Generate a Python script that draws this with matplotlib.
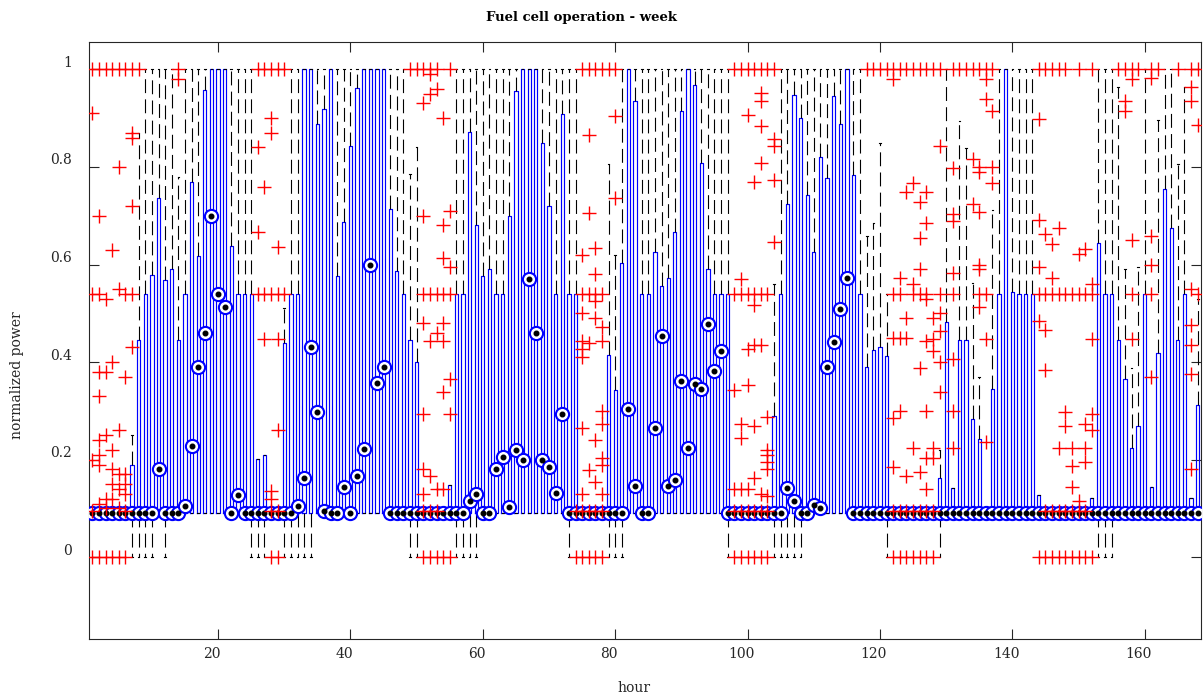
import matplotlib
matplotlib.use("Agg")
import matplotlib.pyplot as plt
import matplotlib.transforms as mtransforms

plt.rcParams['font.family'] = ['DejaVu Serif']
plt.rcParams['lines.scale_dashes'] = False

# Hour of the week for every box
hours = list(range(1, 169))

# Lower quartile is the minimum-load level for every hour
box_bottom = 0.09

# Upper quartile per hour
q3 = [
    0.09, 0.09, 0.09, 0.09, 0.09, 0.09, 0.19, 0.445, 0.54, 0.578,
    0.736, 0.568, 0.59, 0.445, 0.54, 0.77, 0.618, 0.958, 1.0, 1.0,
    1.0, 0.638, 0.54, 0.54, 0.54, 0.202, 0.21, 0.09, 0.09, 0.44,
    0.54, 0.54, 1.0, 1.0, 0.888, 0.919, 1.0, 0.576, 0.687, 0.843,
    0.962, 1.0, 1.0, 1.0, 1.0, 0.713, 0.586, 0.54, 0.445, 0.40,
    0.09, 0.09, 0.09, 0.09, 0.149, 0.54, 0.54, 0.872, 0.68, 0.576,
    0.59, 0.54, 0.54, 0.70, 0.955, 1.0, 1.0, 1.0, 0.85, 0.72,
    0.54, 0.908, 0.54, 0.54, 0.09, 0.09, 0.09, 0.09, 0.415, 0.342,
    0.604, 1.0, 0.935, 0.54, 0.54, 0.625, 0.555, 0.573, 0.667, 0.915,
    1.0, 0.967, 0.807, 0.59, 0.54, 0.54, 0.54, 0.09, 0.09, 0.09,
    0.09, 0.09, 0.09, 0.289, 0.54, 0.724, 0.947, 0.90, 0.742, 0.626,
    0.82, 0.778, 0.946, 0.888, 1.0, 0.783, 0.54, 0.389, 0.425, 0.431,
    0.413, 0.09, 0.09, 0.09, 0.09, 0.09, 0.09, 0.09, 0.162, 0.482,
    0.141, 0.445, 0.445, 0.283, 0.242, 0.09, 0.344, 0.54, 1.0, 0.543,
    0.54, 0.54, 0.54, 0.127, 0.09, 0.09, 0.09, 0.09, 0.09, 0.09,
    0.09, 0.121, 0.645, 0.54, 0.54, 0.445, 0.366, 0.224, 0.27, 0.54,
    0.145, 0.419, 0.755, 0.675, 0.445, 0.54, 0.121, 0.313,
]

# Median per hour
median = [
    0.09, 0.09, 0.09, 0.09, 0.09, 0.09, 0.09, 0.09, 0.09, 0.09,
    0.18, 0.09, 0.09, 0.09, 0.106, 0.228, 0.39, 0.46, 0.70, 0.54,
    0.513, 0.09, 0.127, 0.09, 0.09, 0.09, 0.09, 0.09, 0.09, 0.09,
    0.09, 0.106, 0.163, 0.43, 0.297, 0.094, 0.09, 0.09, 0.143, 0.09,
    0.166, 0.222, 0.60, 0.358, 0.389, 0.09, 0.09, 0.09, 0.09, 0.09,
    0.09, 0.09, 0.09, 0.09, 0.09, 0.09, 0.09, 0.115, 0.129, 0.09,
    0.09, 0.18, 0.205, 0.104, 0.22, 0.20, 0.57, 0.46, 0.20, 0.184,
    0.132, 0.293, 0.09, 0.09, 0.09, 0.09, 0.09, 0.09, 0.09, 0.09,
    0.09, 0.303, 0.147, 0.09, 0.09, 0.265, 0.453, 0.147, 0.159, 0.362,
    0.224, 0.355, 0.344, 0.478, 0.381, 0.423, 0.09, 0.09, 0.09, 0.09,
    0.09, 0.09, 0.09, 0.09, 0.09, 0.141, 0.115, 0.09, 0.09, 0.108,
    0.10, 0.39, 0.442, 0.508, 0.572, 0.09, 0.09, 0.09, 0.09, 0.09,
    0.09, 0.09, 0.09, 0.09, 0.09, 0.09, 0.09, 0.09, 0.09, 0.09,
    0.09, 0.09, 0.09, 0.09, 0.09, 0.09, 0.09, 0.09, 0.09, 0.09,
    0.09, 0.09, 0.09, 0.09, 0.09, 0.09, 0.09, 0.09, 0.09, 0.09,
    0.09, 0.09, 0.09, 0.09, 0.09, 0.09, 0.09, 0.09, 0.09, 0.09,
    0.09, 0.09, 0.09, 0.09, 0.09, 0.09, 0.09, 0.09,
]

# Upper whisker end per hour
whisker_high = [
    0.09, 0.09, 0.09, 0.09, 0.09, 0.09, 0.25, 0.87, 1.0, 1.0,
    1.0, 1.0, 1.0, 0.78, 1.0, 1.0, 1.0, 1.0, 1.0, 1.0,
    1.0, 1.0, 1.0, 1.0, 1.0, 0.202, 0.21, 0.09, 0.09, 0.51,
    1.0, 1.0, 1.0, 1.0, 1.0, 1.0, 1.0, 1.0, 1.0, 1.0,
    1.0, 1.0, 1.0, 1.0, 1.0, 1.0, 1.0, 1.0, 0.785, 0.84,
    0.09, 0.09, 0.09, 0.09, 0.149, 1.0, 1.0, 1.0, 1.0, 1.0,
    1.0, 1.0, 1.0, 1.0, 1.0, 1.0, 1.0, 1.0, 1.0, 1.0,
    1.0, 1.0, 1.0, 1.0, 0.09, 0.09, 0.09, 0.09, 0.805, 0.62,
    1.0, 1.0, 1.0, 1.0, 1.0, 1.0, 1.0, 1.0, 1.0, 1.0,
    1.0, 1.0, 1.0, 1.0, 1.0, 1.0, 1.0, 0.09, 0.09, 0.09,
    0.09, 0.09, 0.09, 0.561, 1.0, 1.0, 1.0, 1.0, 1.0, 1.0,
    1.0, 1.0, 1.0, 1.0, 1.0, 1.0, 1.0, 0.659, 0.685, 0.85,
    0.54, 0.09, 0.09, 0.09, 0.09, 0.09, 0.09, 0.09, 0.22, 1.0,
    0.141, 0.894, 0.839, 0.563, 0.369, 0.09, 0.712, 1.0, 1.0, 1.0,
    1.0, 1.0, 1.0, 0.127, 0.09, 0.09, 0.09, 0.09, 0.09, 0.09,
    0.09, 0.121, 1.0, 1.0, 1.0, 0.963, 0.59, 0.387, 0.594, 1.0,
    0.145, 0.896, 1.0, 1.0, 0.805, 0.963, 0.121, 0.53,
]

# Lower whisker end per hour (0 where the cell was switched off in the spread)
whisker_low = [
    0.09, 0.09, 0.09, 0.09, 0.09, 0.09, 0.0, 0.0, 0.0, 0.0,
    0.09, 0.0, 0.09, 0.09, 0.09, 0.09, 0.09, 0.09, 0.09, 0.09,
    0.09, 0.09, 0.09, 0.09, 0.0, 0.0, 0.0, 0.09, 0.09, 0.0,
    0.0, 0.0, 0.0, 0.0, 0.09, 0.09, 0.09, 0.09, 0.09, 0.09,
    0.09, 0.09, 0.09, 0.09, 0.09, 0.09, 0.09, 0.09, 0.0, 0.0,
    0.09, 0.09, 0.09, 0.09, 0.09, 0.0, 0.0, 0.0, 0.0, 0.09,
    0.09, 0.09, 0.09, 0.09, 0.09, 0.09, 0.09, 0.09, 0.09, 0.09,
    0.09, 0.09, 0.0, 0.09, 0.09, 0.09, 0.09, 0.09, 0.0, 0.0,
    0.0, 0.09, 0.09, 0.09, 0.09, 0.09, 0.09, 0.09, 0.09, 0.09,
    0.09, 0.09, 0.09, 0.09, 0.09, 0.09, 0.0, 0.09, 0.09, 0.09,
    0.09, 0.09, 0.09, 0.0, 0.0, 0.0, 0.0, 0.0, 0.09, 0.09,
    0.09, 0.09, 0.09, 0.09, 0.09, 0.09, 0.09, 0.09, 0.09, 0.09,
    0.0, 0.09, 0.09, 0.09, 0.09, 0.09, 0.09, 0.09, 0.0, 0.09,
    0.09, 0.09, 0.09, 0.09, 0.09, 0.09, 0.09, 0.09, 0.09, 0.09,
    0.09, 0.09, 0.09, 0.09, 0.09, 0.09, 0.09, 0.09, 0.09, 0.09,
    0.09, 0.09, 0.0, 0.0, 0.0, 0.09, 0.09, 0.09, 0.09, 0.09,
    0.09, 0.09, 0.09, 0.09, 0.09, 0.09, 0.09, 0.09,
]

# Outlying observations, keyed by hour
outliers = {
    1: [1.0, 0.91, 0.54, 0.20, 0.095, 0.0],
    2: [1.0, 0.70, 0.54, 0.38, 0.33, 0.24, 0.21, 0.19, 0.11, 0.0],
    3: [1.0, 0.53, 0.38, 0.25, 0.12, 0.10, 0.0],
    4: [1.0, 0.63, 0.40, 0.22, 0.18, 0.15, 0.12, 0.0],
    5: [1.0, 0.80, 0.55, 0.26, 0.17, 0.14, 0.10, 0.0],
    6: [1.0, 0.54, 0.37, 0.17, 0.15, 0.13, 0.095, 0.0],
    7: [1.0, 0.87, 0.86, 0.72, 0.54, 0.43],
    8: [1.0],
    14: [1.0, 0.98],
    26: [1.0, 0.84, 0.667, 0.54],
    27: [1.0, 0.758, 0.54, 0.448],
    28: [1.0, 0.90, 0.87, 0.54, 0.135, 0.119, 0.095, 0.0],
    29: [1.0, 0.636, 0.54, 0.448, 0.26, 0.095, 0.0],
    30: [1.0, 0.54],
    49: [1.0],
    50: [1.0],
    51: [1.0, 0.93, 0.70, 0.54, 0.48, 0.293, 0.18, 0.13, 0.095, 0.0],
    52: [1.0, 0.99, 0.95, 0.54, 0.444, 0.167, 0.095, 0.0],
    53: [1.0, 0.96, 0.54, 0.46, 0.14, 0.095, 0.0],
    54: [0.90, 0.68, 0.614, 0.54, 0.48, 0.444, 0.338, 0.14, 0.0],
    55: [1.0, 0.71, 0.595, 0.54, 0.366, 0.293, 0.0],
    74: [0.095, 0.0],
    75: [1.0, 0.62, 0.54, 0.50, 0.444, 0.427, 0.41, 0.265, 0.13, 0.095, 0.0],
    76: [1.0, 0.866, 0.706, 0.54, 0.44, 0.178, 0.095, 0.0],
    77: [1.0, 0.633, 0.58, 0.54, 0.525, 0.49, 0.24, 0.155, 0.095, 0.0],
    78: [1.0, 0.54, 0.472, 0.444, 0.30, 0.273, 0.204, 0.19, 0.13, 0.095, 0.0],
    79: [1.0],
    80: [1.0, 0.904, 0.736],
    98: [1.0, 0.54, 0.342, 0.139, 0.095, 0.0],
    99: [1.0, 0.571, 0.54, 0.273, 0.245, 0.139, 0.095, 0.0],
    100: [1.0, 0.906, 0.54, 0.427, 0.354, 0.14, 0.095, 0.0],
    101: [1.0, 0.77, 0.54, 0.517, 0.435, 0.27, 0.163, 0.095, 0.0],
    102: [1.0, 0.951, 0.935, 0.884, 0.807, 0.54, 0.435, 0.13, 0.095, 0.0],
    103: [1.0, 0.54, 0.287, 0.22, 0.21, 0.196, 0.18, 0.125, 0.095, 0.0],
    104: [1.0, 0.858, 0.842, 0.773, 0.647],
    118: [1.0],
    119: [1.0],
    120: [1.0],
    121: [1.0],
    122: [1.0, 0.98, 0.54, 0.45, 0.285, 0.184, 0.095, 0.0],
    123: [1.0, 0.573, 0.54, 0.45, 0.30, 0.095, 0.0],
    124: [1.0, 0.748, 0.49, 0.45, 0.167, 0.095, 0.0],
    125: [1.0, 0.768, 0.561, 0.54, 0.224, 0.095, 0.0],
    126: [1.0, 0.728, 0.655, 0.59, 0.54, 0.387, 0.175, 0.095, 0.0],
    127: [1.0, 0.748, 0.685, 0.54, 0.529, 0.444, 0.30, 0.204, 0.139, 0.095, 0.0],
    128: [1.0, 0.49, 0.448, 0.423, 0.224, 0.204, 0.095, 0.0],
    129: [1.0, 0.843, 0.54, 0.50, 0.464, 0.40, 0.338],
    131: [1.0, 0.797, 0.703, 0.69, 0.582, 0.54, 0.407, 0.30, 0.224],
    132: [1.0],
    133: [1.0],
    134: [1.0, 0.817, 0.724],
    135: [1.0, 0.80, 0.789, 0.708, 0.60, 0.59, 0.54, 0.513],
    136: [1.0, 0.98, 0.939, 0.54, 0.448, 0.236],
    137: [1.0, 0.915, 0.80, 0.768],
    144: [1.0, 0.898, 0.691, 0.594, 0.54, 0.484, 0.0],
    145: [1.0, 0.663, 0.54, 0.466, 0.383, 0.095, 0.0],
    146: [1.0, 0.643, 0.573, 0.54, 0.095, 0.0],
    147: [1.0, 0.675, 0.54, 0.224, 0.095, 0.0],
    148: [1.0, 0.54, 0.297, 0.27, 0.095, 0.0],
    149: [0.54, 0.224, 0.188, 0.143, 0.095, 0.0],
    150: [1.0, 0.622, 0.54, 0.115, 0.095, 0.0],
    151: [0.631, 0.54, 0.273, 0.224, 0.196, 0.095, 0.0],
    152: [1.0, 0.561, 0.54, 0.448, 0.293, 0.26, 0.0],
    156: [1.0],
    157: [1.0, 0.935, 0.915],
    158: [1.0, 0.98, 0.651, 0.54, 0.448],
    159: [1.0],
    161: [1.0, 0.983, 0.659, 0.598, 0.54, 0.37],
    162: [1.0],
    165: [1.0],
    167: [1.0, 0.963, 0.935, 0.549, 0.476, 0.435, 0.376, 0.18],
    168: [1.0, 0.886, 0.54],
}

x_ticks = [20, 40, 60, 80, 100, 120, 140, 160]
y_ticks = [0, 0.2, 0.4, 0.6, 0.8, 1]
y_tick_labels = ['0', '0.2', '0.4', '0.6', '0.8', '1']

W, H, DPI = 1204, 695, 100
fig = plt.figure(figsize=(W / DPI, H / DPI), dpi=DPI)
ax = fig.add_axes([89 / W, 1 - 639 / H, (1201 - 89) / W, (639 - 42) / H])

stats = []
for i, h in enumerate(hours):
    stats.append(dict(
        med=median[i], q1=box_bottom, q3=q3[i],
        whislo=whisker_low[i], whishi=whisker_high[i],
        fliers=outliers.get(h, []),
    ))

ax.bxp(
    stats, positions=hours, widths=0.5, capwidths=0.25,
    showfliers=True, manage_ticks=False,
    boxprops=dict(color='blue', linewidth=0.85),
    whiskerprops=dict(color='black', linewidth=0.8, linestyle=(0, (10, 4.5))),
    capprops=dict(color='black', linewidth=0.8),
    medianprops=dict(linestyle='none'),
    flierprops=dict(marker='+', markersize=9.5, markeredgewidth=1.0,
                    markeredgecolor='red', linestyle='none', zorder=5),
)

# Median markers: open circle with a centre dot
ax.plot(hours, median, linestyle='none', marker='o', markersize=9.5,
        markerfacecolor='white', markeredgecolor='blue',
        markeredgewidth=1.5, zorder=3)
ax.plot(hours, median, linestyle='none', marker='o', markersize=3.3,
        markerfacecolor='black', markeredgecolor='black', zorder=4)

ax.set_xlim(0.5, 168.5)
ax.set_ylim(-0.1675, 1.056)
ax.set_xticks(x_ticks)
ax.set_xticklabels([str(t) for t in x_ticks])
ax.set_yticks(y_ticks)
ax.set_yticklabels(y_tick_labels)

edge = '#262626'
for s in ax.spines.values():
    s.set_color(edge)
    s.set_linewidth(0.8)
ax.tick_params(direction='in', length=7.5, width=0.8, color=edge,
               top=True, right=True, labelsize=10, labelcolor='#262626')
ax.tick_params(axis='x', pad=6)
ax.tick_params(axis='y', pad=12)

# Shift tick labels slightly, as in the original rendering
dy = mtransforms.ScaledTranslation(0, 8 / DPI, fig.dpi_scale_trans)
dx = mtransforms.ScaledTranslation(-6 / DPI, 0, fig.dpi_scale_trans)
for lab in ax.get_yticklabels():
    lab.set_transform(lab.get_transform() + dy)
for lab in ax.get_xticklabels():
    lab.set_transform(lab.get_transform() + dx)

fig.text(486 / W, 1 - 18 / H, 'Fuel cell operation - week', ha='left',
         va='center', fontsize=9.5, fontweight='bold', color='black')
fig.text(634 / W, 1 - 688 / H, 'hour', ha='center', va='center',
         fontsize=10, color='#262626')
fig.text(17 / W, 1 - 375 / H, 'normalized power', ha='center', va='center',
         rotation=90, fontsize=10, color='#262626')

fig.savefig('out.png', dpi=DPI)
